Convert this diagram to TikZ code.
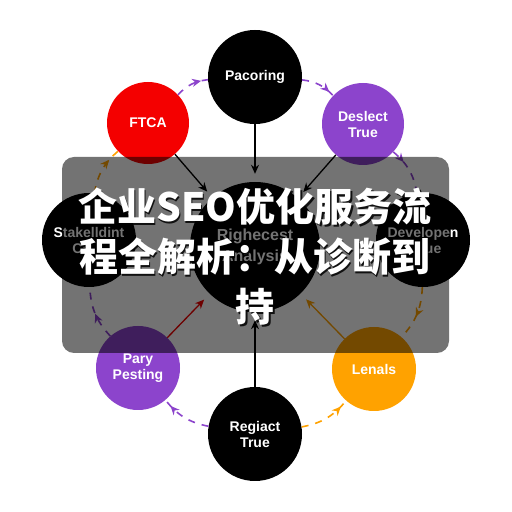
\documentclass[tikz,border=0pt]{standalone}
\usepackage{fontspec}
\setmainfont{Liberation Sans}
\newfontfamily\cjk{Noto Sans CJK SC}
\usetikzlibrary{arrows.meta,decorations.markings}
\definecolor{cred}{HTML}{F40000}
\definecolor{cpurple}{HTML}{8C44CC}
\definecolor{corange}{HTML}{FFA200}
\begin{document}
\begin{tikzpicture}[x=1pt,y=1pt,
  circ/.style={circle, minimum size=#1, inner sep=0pt, text=white,
    font=\bfseries\fontsize{14}{16}\selectfont, align=center},
  solidarr/.style={line width=1.3pt, -{Stealth[length=9pt,width=8pt]}, shorten >=8pt},
  dasharr/.style={line width=1.6pt, dash pattern=on 7pt off 7pt,
    decoration={markings, mark=at position #1 with {\arrow{Stealth[length=9pt,width=8pt]}}},
    postaction={decorate}},
  titletext/.style={align=center, inner sep=0pt,
    font=\cjk\bfseries\fontsize{39}{50}\selectfont}]
\useasboundingbox (0,0) rectangle (512,512);
\fill[white] (0,0) rectangle (512,512);
% nodes
\node[circ=94pt, fill=black] (pac) at (255,435) {Pacoring};
\node[circ=82pt, fill=cred] (ftca) at (148,389) {FTCA};
\node[circ=82pt, fill=cpurple] (des) at (363,388) {Deslect\\True};
\node[circ=94pt, fill=black] (stk) at (89,272) {Stakelldint\\Ca\phantom{se}};
\node[circ=94pt, fill=black] (dev) at (423,272) {Developen\\\phantom{Val}ue};
\node[circ=130pt, fill=black, font=\bfseries\fontsize{16}{21}\selectfont] (cen) at (255,265) {Righecest\\Analysis};
\node[circ=84pt, fill=cpurple] (pary) at (138,144) {Pary\\Pesting};
\node[circ=84pt, fill=corange] (len) at (374,143) {Lenals};
\node[circ=94pt, fill=black] (reg) at (255,78) {Regiact\\True};
% solid connectors to centre
\draw[solidarr] (ftca) -- (cen);
\draw[solidarr] (pac) -- (cen);
\draw[solidarr] (des) -- (cen);
\draw[solidarr, cred] (pary) -- (cen);
\draw[solidarr, corange] (len) -- (cen);
\draw[solidarr] (reg) -- (cen);
% dashed ring connectors
\draw[dasharr=0.8, cpurple] (ftca) to[bend left=20] (pac);
\draw[dasharr=0.85, cpurple] (pac) to[bend left=20] (des);
\draw[dasharr=0.3, cpurple] (des) to[bend left=20] (dev);
\draw[dasharr=0.55, corange] (dev) to[bend left=20] (len);
\draw[dasharr=0.75, corange] (stk) to[bend left=20] (ftca);
\draw[dasharr=0.5, cpurple] (pary) to[bend left=20] (stk);
\draw[dasharr=0.85, cpurple] (reg) to[bend left=20] (pary);
\draw[dasharr=0.85, corange] (reg) to[bend right=20] (len);
% overlay
\fill[black, opacity=0.55, rounded corners=12pt] (62,159) rectangle (449,355);
\node[titletext, text=black, opacity=0.85] (titleshadow) at (256.5,253.5) {企业SEO优化服务流\\程全解析：从诊断到\\持};
\node[titletext, text=white] (title) at (255,255) {企业SEO优化服务流\\程全解析：从诊断到\\持};
\end{tikzpicture}
\end{document}
